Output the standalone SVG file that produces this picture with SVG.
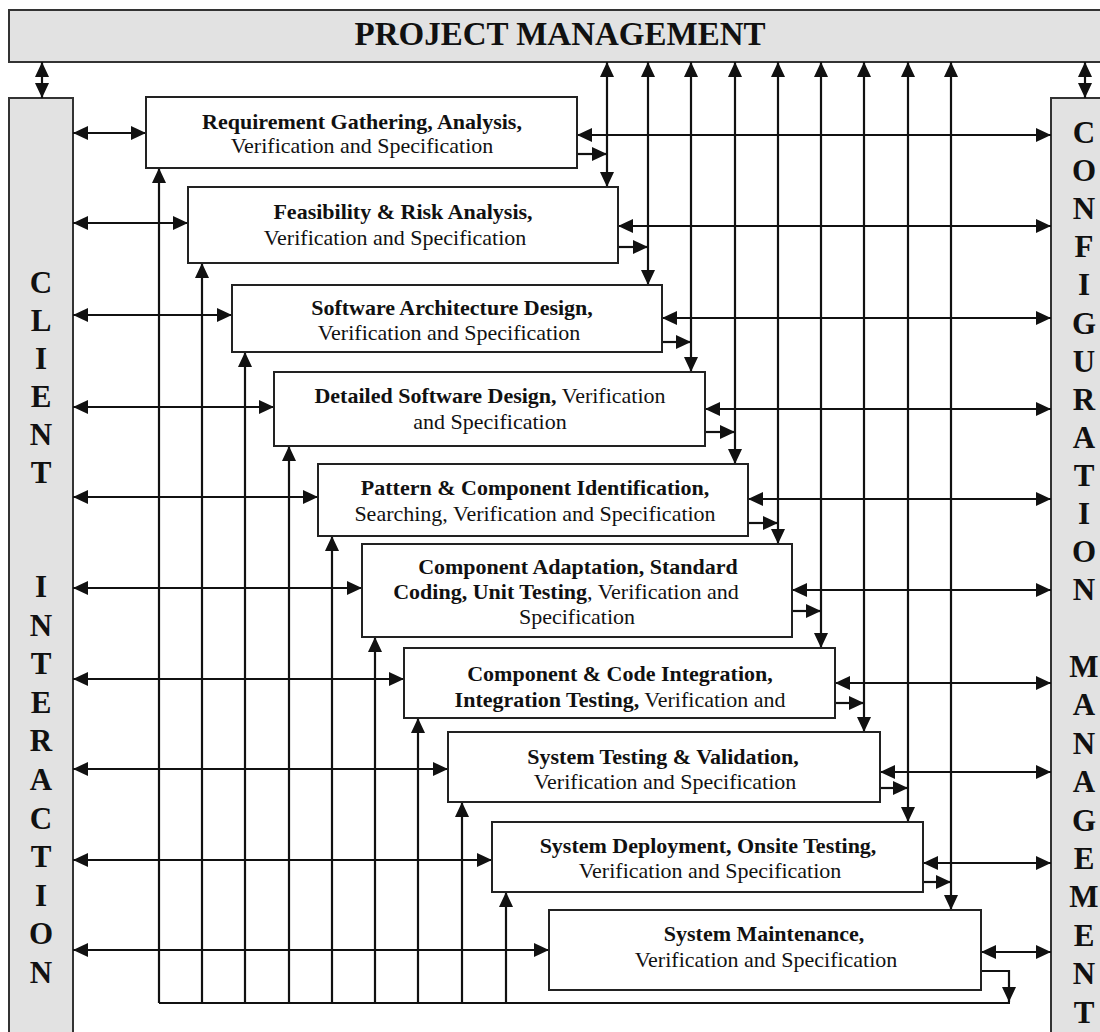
<svg xmlns="http://www.w3.org/2000/svg" width="1100" height="1032" viewBox="0 0 1100 1032">
<style>
.panel{fill:#e2e2e2;stroke:#333;stroke-width:2}
.box{fill:#fff;stroke:#222;stroke-width:2}
.t{font-family:"Liberation Serif","Times New Roman",serif;font-size:22px;fill:#111;text-anchor:middle}
.b{font-weight:bold}
.big{font-family:"Liberation Serif","Times New Roman",serif;font-weight:bold;fill:#111;text-anchor:middle}
#connectors line,#connectors polyline{stroke:#111;stroke-width:2.2;fill:none}
.d{marker-start:url(#ah);marker-end:url(#ah)}
.s{marker-end:url(#ah)}
</style>
<defs>
<marker id="ah" viewBox="0 0 15 14" refX="15" refY="7" markerWidth="15" markerHeight="14" markerUnits="userSpaceOnUse" orient="auto-start-reverse"><path d="M0,0L15,7L0,14z" fill="#111"/></marker>
</defs>
<rect width="1100" height="1032" fill="#fff"/>

<g id="project-management">
<rect class="panel" x="9" y="10" width="1095" height="52"/>
<text class="big" x="560" y="45" font-size="33">PROJECT MANAGEMENT</text>
</g>

<g id="client-interaction">
<rect class="panel" x="9" y="98" width="64" height="945"/>
<g class="big" font-size="31">
<text x="41" y="293">C</text><text x="41" y="331">L</text><text x="41" y="369">I</text><text x="41" y="407">E</text><text x="41" y="445">N</text><text x="41" y="483">T</text>
<text x="41" y="597">I</text><text x="41" y="636">N</text><text x="41" y="674">T</text><text x="41" y="713">E</text><text x="41" y="751">R</text><text x="41" y="790">A</text><text x="41" y="829">C</text><text x="41" y="867">T</text><text x="41" y="906">I</text><text x="41" y="944">O</text><text x="41" y="983">N</text>
</g>
</g>

<g id="configuration-management">
<rect class="panel" x="1051" y="98" width="55" height="945"/>
<g class="big" font-size="31">
<text x="1084" y="143">C</text><text x="1084" y="181">O</text><text x="1084" y="219">N</text><text x="1084" y="257">F</text><text x="1084" y="295">I</text><text x="1084" y="334">G</text><text x="1084" y="372">U</text><text x="1084" y="410">R</text><text x="1084" y="448">A</text><text x="1084" y="486">T</text><text x="1084" y="524">I</text><text x="1084" y="562">O</text><text x="1084" y="600">N</text>
<text x="1084" y="677">M</text><text x="1084" y="715">A</text><text x="1084" y="754">N</text><text x="1084" y="792">A</text><text x="1084" y="831">G</text><text x="1084" y="869">E</text><text x="1084" y="907">M</text><text x="1084" y="946">E</text><text x="1084" y="984">N</text><text x="1084" y="1023">T</text>
</g>
</g>

<g id="connectors">
<line class="d" x1="42" y1="62" x2="42" y2="98"/>
<line class="d" x1="1085" y1="62" x2="1085" y2="98"/>
<!-- client interaction arrows -->
<line class="d" x1="73" y1="133" x2="146" y2="133"/>
<line class="d" x1="73" y1="223" x2="188" y2="223"/>
<line class="d" x1="73" y1="315" x2="232" y2="315"/>
<line class="d" x1="73" y1="407" x2="274" y2="407"/>
<line class="d" x1="73" y1="497" x2="318" y2="497"/>
<line class="d" x1="73" y1="588" x2="362" y2="588"/>
<line class="d" x1="73" y1="679" x2="404" y2="679"/>
<line class="d" x1="73" y1="769" x2="448" y2="769"/>
<line class="d" x1="73" y1="860" x2="492" y2="860"/>
<line class="d" x1="73" y1="950" x2="549" y2="950"/>
<!-- configuration management arrows -->
<line class="d" x1="577" y1="135" x2="1051" y2="135"/>
<line class="d" x1="618" y1="226" x2="1051" y2="226"/>
<line class="d" x1="662" y1="318" x2="1051" y2="318"/>
<line class="d" x1="705" y1="409" x2="1051" y2="409"/>
<line class="d" x1="748" y1="499" x2="1051" y2="499"/>
<line class="d" x1="792" y1="590" x2="1051" y2="590"/>
<line class="d" x1="835" y1="683" x2="1051" y2="683"/>
<line class="d" x1="880" y1="772" x2="1051" y2="772"/>
<line class="d" x1="923" y1="863" x2="1051" y2="863"/>
<line class="d" x1="981" y1="952" x2="1051" y2="952"/>
<!-- project management verticals -->
<line class="d" x1="607" y1="62" x2="607" y2="187"/>
<line class="d" x1="648" y1="62" x2="648" y2="285"/>
<line class="d" x1="691" y1="62" x2="691" y2="372"/>
<line class="d" x1="735" y1="62" x2="735" y2="464"/>
<line class="d" x1="778" y1="62" x2="778" y2="544"/>
<line class="d" x1="821" y1="62" x2="821" y2="648"/>
<line class="d" x1="864" y1="62" x2="864" y2="732"/>
<line class="d" x1="908" y1="62" x2="908" y2="822"/>
<line class="d" x1="951" y1="62" x2="951" y2="910"/>
<!-- phase outputs -->
<line class="s" x1="577" y1="154" x2="607" y2="154"/>
<line class="s" x1="618" y1="247" x2="648" y2="247"/>
<line class="s" x1="662" y1="342" x2="691" y2="342"/>
<line class="s" x1="705" y1="432" x2="735" y2="432"/>
<line class="s" x1="748" y1="523" x2="778" y2="523"/>
<line class="s" x1="792" y1="611" x2="821" y2="611"/>
<line class="s" x1="835" y1="703" x2="864" y2="703"/>
<line class="s" x1="880" y1="788" x2="908" y2="788"/>
<line class="s" x1="923" y1="882" x2="951" y2="882"/>
<polyline class="s" points="981,971 1009,971 1009,1002"/>
<!-- feedback -->
<polyline points="159,1003 1010,1003"/>
<line class="s" x1="159" y1="1003" x2="159" y2="168"/>
<line class="s" x1="202" y1="1003" x2="202" y2="263"/>
<line class="s" x1="245" y1="1003" x2="245" y2="352"/>
<line class="s" x1="289" y1="1003" x2="289" y2="446"/>
<line class="s" x1="332" y1="1003" x2="332" y2="536"/>
<line class="s" x1="375" y1="1003" x2="375" y2="637"/>
<line class="s" x1="418" y1="1003" x2="418" y2="718"/>
<line class="s" x1="462" y1="1003" x2="462" y2="802"/>
<line class="s" x1="506" y1="1003" x2="506" y2="892"/>
</g>

<g id="requirement">
<rect class="box" x="146" y="97" width="431" height="71"/>
<text class="t b" x="362" y="129">Requirement Gathering, Analysis,</text>
<text class="t" x="362" y="153">Verification and Specification</text>
</g>
<g id="feasibility">
<rect class="box" x="188" y="187" width="430" height="76"/>
<text class="t b" x="403" y="219">Feasibility &amp; Risk Analysis,</text>
<text class="t" x="395" y="245">Verification and Specification</text>
</g>
<g id="architecture">
<rect class="box" x="232" y="285" width="430" height="67"/>
<text class="t b" x="452" y="315">Software Architecture Design,</text>
<text class="t" x="449" y="340">Verification and Specification</text>
</g>
<g id="detailed-design">
<rect class="box" x="274" y="372" width="431" height="74"/>
<text class="t" x="490" y="403"><tspan class="b">Detailed Software Design,</tspan> Verification</text>
<text class="t" x="490" y="429">and Specification</text>
</g>
<g id="pattern">
<rect class="box" x="318" y="464" width="430" height="72"/>
<text class="t b" x="535" y="495">Pattern &amp; Component Identification,</text>
<text class="t" x="535" y="521">Searching, Verification and Specification</text>
</g>
<g id="adaptation">
<rect class="box" x="362" y="544" width="430" height="93"/>
<text class="t b" x="578" y="574">Component Adaptation, Standard</text>
<text class="t" x="566" y="599"><tspan class="b">Coding, Unit Testing</tspan>, Verification and</text>
<text class="t" x="577" y="624">Specification</text>
</g>
<g id="integration">
<rect class="box" x="404" y="648" width="431" height="70"/>
<text class="t b" x="620" y="681">Component &amp; Code Integration,</text>
<text class="t" x="620" y="707"><tspan class="b">Integration Testing,</tspan> Verification and</text>
</g>
<g id="system-testing">
<rect class="box" x="448" y="732" width="432" height="70"/>
<text class="t b" x="663" y="764">System Testing &amp; Validation,</text>
<text class="t" x="665" y="789">Verification and Specification</text>
</g>
<g id="deployment">
<rect class="box" x="492" y="822" width="431" height="70"/>
<text class="t b" x="708" y="853">System Deployment, Onsite Testing,</text>
<text class="t" x="710" y="878">Verification and Specification</text>
</g>
<g id="maintenance">
<rect class="box" x="549" y="910" width="432" height="80"/>
<text class="t b" x="764" y="941">System Maintenance,</text>
<text class="t" x="766" y="967">Verification and Specification</text>
</g>
</svg>
